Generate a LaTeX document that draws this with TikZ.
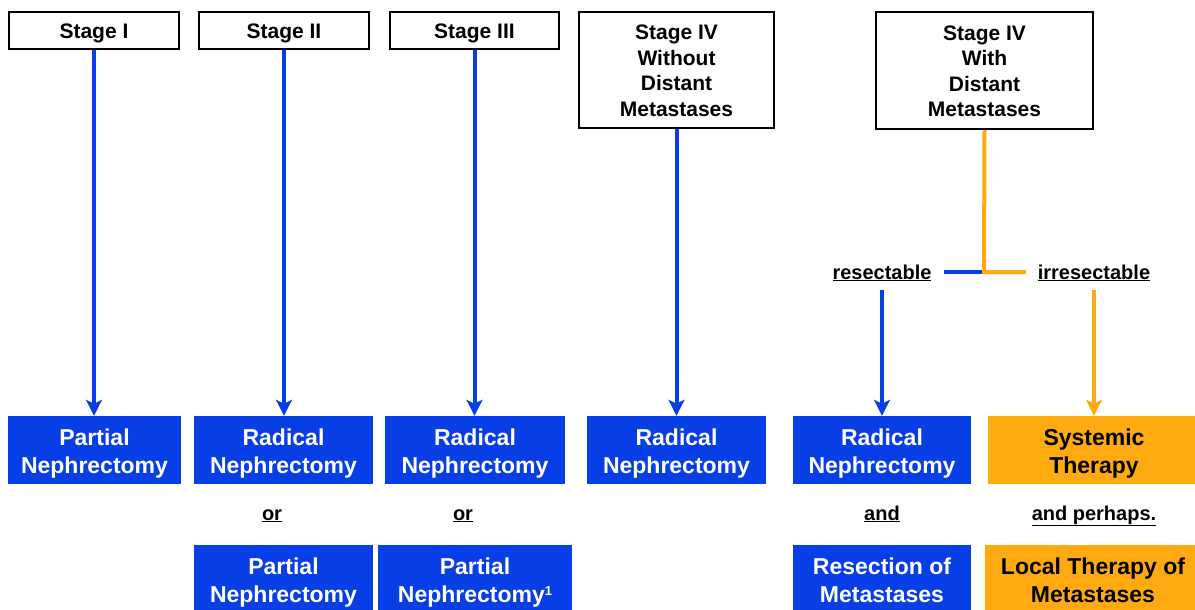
\documentclass[tikz,border=0pt]{standalone}
\usepackage{fontspec}
\setmainfont{Liberation Sans}
\usetikzlibrary{arrows.meta}
\definecolor{tblue}{RGB}{8,62,230}
\definecolor{torange}{RGB}{255,170,17}
\tikzset{
  stagebox/.style={draw=black, line width=2pt, fill=white, inner sep=0pt},
  stagetext/.style={inner sep=0pt, align=center, yshift=-3pt,
    font=\fontsize{21}{25.5}\selectfont\bfseries},
  treatbox/.style={fill=tblue, inner sep=0pt},
  orbox/.style={fill=torange, inner sep=0pt},
  treattext/.style={inner sep=0pt, align=center, text=white, yshift=-4pt,
    font=\fontsize{23}{28}\selectfont\bfseries},
  ortext/.style={treattext, text=black},
  lab/.style={inner sep=0pt, anchor=base, font=\fontsize{20}{24}\selectfont\bfseries},
  bline/.style={draw=tblue, line width=4pt},
  oline/.style={draw=torange, line width=4pt},
  tip/.style={-{Stealth[length=16pt,width=16pt,inset=4pt]}}
}
\begin{document}
\begin{tikzpicture}[x=1pt,y=-1pt]
\useasboundingbox (0,0) rectangle (1195,610);
\clip (0,0) rectangle (1195,610);
% stage boxes
\node[stagebox, minimum width=170pt, minimum height=37pt] (s1) at (94,30.5) {};
\node[stagetext] (s1t) at (s1) {Stage I};
\node[stagebox, minimum width=170pt, minimum height=37pt] (s2) at (284,30.5) {};
\node[stagetext] (s2t) at (s2) {Stage II};
\node[stagebox, minimum width=169pt, minimum height=37pt] (s3) at (474.5,30.5) {};
\node[stagetext] (s3t) at (s3) {Stage III};
\node[stagebox, minimum width=195pt, minimum height=116pt] (s4) at (676.5,70) {};
\node[stagetext, yshift=2pt] (s4t) at (s4) {Stage IV\\Without\\Distant\\Metastases};
\node[stagebox, minimum width=217pt, minimum height=117pt] (s5) at (984.5,70.5) {};
\node[stagetext, yshift=2pt] (s5t) at (s5) {Stage IV\\With\\Distant\\Metastases};
% first row treatments
\node[treatbox, minimum width=173pt, minimum height=68pt] (r1) at (94.5,450) {};
\node[treattext] (r1t) at (r1) {Partial\\Nephrectomy};
\node[treatbox, minimum width=179pt, minimum height=68pt] (r2) at (283.5,450) {};
\node[treattext] (r2t) at (r2) {Radical\\Nephrectomy};
\node[treatbox, minimum width=180pt, minimum height=68pt] (r3) at (475,450) {};
\node[treattext] (r3t) at (r3) {Radical\\Nephrectomy};
\node[treatbox, minimum width=179pt, minimum height=68pt] (r4) at (676.5,450) {};
\node[treattext] (r4t) at (r4) {Radical\\Nephrectomy};
\node[treatbox, minimum width=178pt, minimum height=68pt] (r5) at (882,450) {};
\node[treattext] (r5t) at (r5) {Radical\\Nephrectomy};
\node[orbox, minimum width=212pt, minimum height=68pt] (r6) at (1094,450) {};
\node[ortext] (r6t) at (r6) {Systemic\\Therapy};
% second row
\node[treatbox, minimum width=179pt, minimum height=68pt] (p2) at (283.5,579) {};
\node[treattext] (p2t) at (p2) {Partial\\Nephrectomy};
\node[treatbox, minimum width=194pt, minimum height=68pt] (p3) at (475,579) {};
\node[treattext] (p3t) at (p3) {Partial\\Nephrectomy\raisebox{7pt}{\fontsize{13}{13}\selectfont 1}};
\node[treatbox, minimum width=178pt, minimum height=68pt] (p5) at (882,579) {};
\node[treattext, yshift=3pt] (p5t) at (p5) {Resection of\\Metastases};
\node[orbox, minimum width=216pt, minimum height=68pt] (p6) at (1093,579) {};
\node[ortext, yshift=3pt] (p6t) at (p6) {Local Therapy of\\Metastases};
% connecting words
\node[lab] (o2) at (272,520) {\underline{or}};
\node[lab] (o3) at (463,520) {\underline{or}};
\node[lab] (a5) at (882,520) {\underline{and}};
\node[lab] (a6) at (1094,520) {\underline{and perhaps.}};
\node[lab] (res) at (882,279) {\underline{resectable}};
\node[lab] (irr) at (1094,279) {\underline{irresectable}};
% arrows
\draw[bline, tip] (s1.south) -- (r1.north -| s1.south);
\draw[bline, tip] (s2.south) -- (r2.north -| s2.south);
\draw[bline, tip] (s3.south) -- (r3.north -| s3.south);
\draw[bline, tip] (s4.south) -- (r4.north -| s4.south);
% split
\coordinate (j) at (984,272);
\coordinate (jb) at (944,272);
\coordinate (je) at (1026,272);
\draw[bline] (jb) -- (j);
\draw[oline] (s5.south) -- (j) -- (je);
\coordinate (resb) at (882,290);
\coordinate (irrb) at (1094,290);
\draw[bline, tip] (resb) -- (r5.north);
\draw[oline, tip] (irrb) -- (r6.north);
\end{tikzpicture}
\end{document}
